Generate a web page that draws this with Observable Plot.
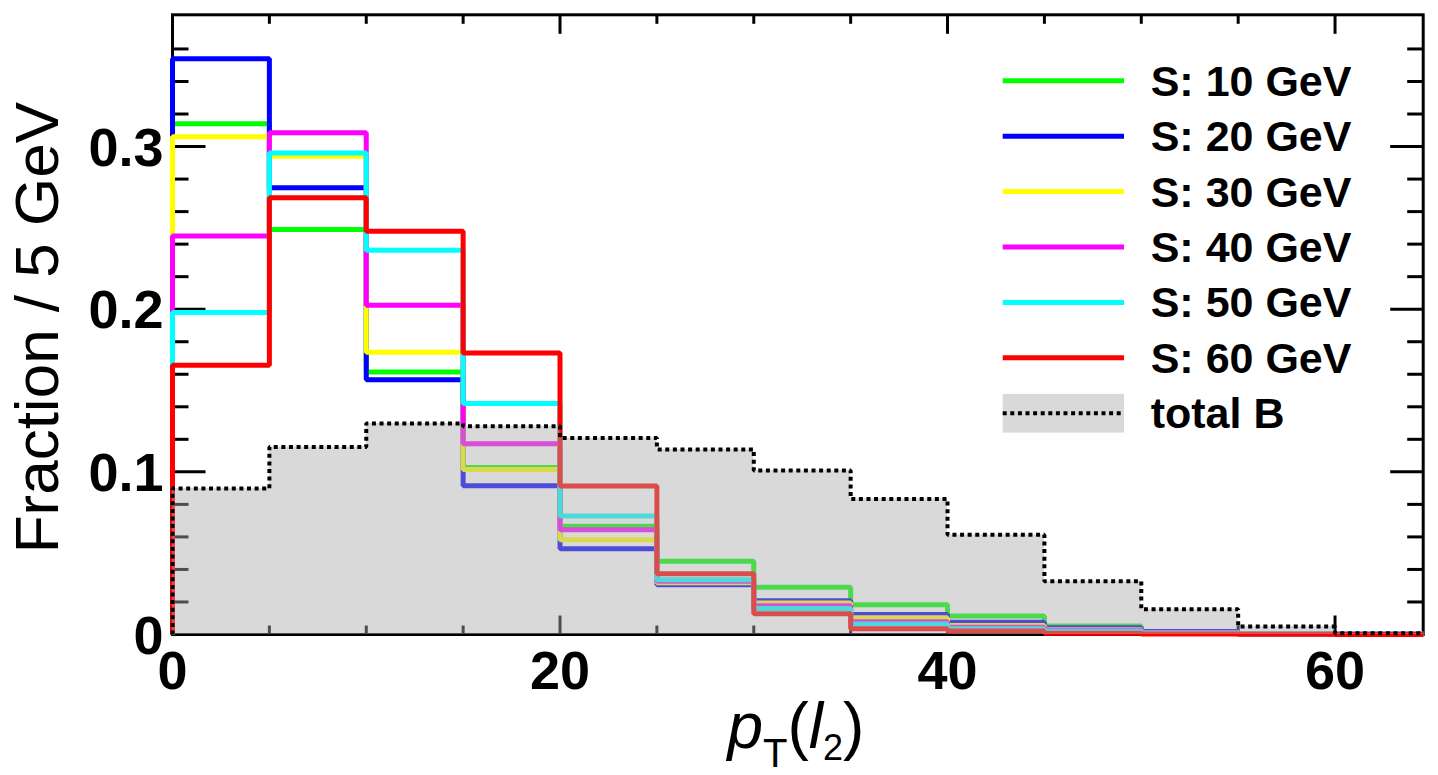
<!DOCTYPE html>
<html>
<head>
<meta charset="utf-8">
<script src="https://cdn.jsdelivr.net/npm/d3@7"></script>
<script src="https://cdn.jsdelivr.net/npm/@observablehq/plot@0.6"></script>
<style>
html,body{margin:0;padding:0;background:#fff;overflow:hidden}
</style>
</head>
<body>
<div id="chart"></div>
<script>
// ---- data ----
const binEdges = [0, 5, 10, 15, 20, 25, 30, 35, 40, 45, 50, 55, 60];
const seriesNames = ["S: 10 GeV", "S: 20 GeV", "S: 30 GeV", "S: 40 GeV", "S: 50 GeV", "S: 60 GeV"];
const seriesColors = ["#00ff00", "#0000ff", "#ffff00", "#ff00ff", "#00ffff", "#ff0000"];
const s10 = [0.314, 0.249, 0.1614, 0.1026, 0.0665, 0.0451, 0.0291, 0.0183, 0.0113, 0.0053, 0.0018, 0.0006, 0.0002];
const s20 = [0.354, 0.2747, 0.1567, 0.0915, 0.0527, 0.0306, 0.0207, 0.0123, 0.0076, 0.0041, 0.0018, 0.0006, 0.0002];
const s30 = [0.306, 0.294, 0.1735, 0.1014, 0.0583, 0.0318, 0.0193, 0.0103, 0.0055, 0.0030, 0.0012, 0.0004, 0.0001];
const s40 = [0.245, 0.3085, 0.2025, 0.1173, 0.0644, 0.0328, 0.0177, 0.0078, 0.0045, 0.0028, 0.0010, 0.0003, 0.0001];
const s50 = [0.198, 0.296, 0.2363, 0.142, 0.0728, 0.0337, 0.0160, 0.0064, 0.0035, 0.0020, 0.0008, 0.0003, 0.0001];
const s60 = [0.1655, 0.2685, 0.248, 0.173, 0.0913, 0.0373, 0.0127, 0.0035, 0.0022, 0.0008, 0.0003, 0.0001, 0.0];
const totalB = [0.0897, 0.1153, 0.1297, 0.128, 0.1208, 0.1138, 0.1009, 0.0833, 0.0614, 0.0328, 0.0156, 0.0049, 0.0008];
const bName = "total B";

const xMax = 64.55;
const yMax = 0.381;
const xTickValues = [0, 20, 40, 60];
const xTickLabels = ["0", "20", "40", "60"];
const xMajorTicks = [20, 40, 60];
const xMinorTicks = [5, 10, 15, 25, 30, 35, 45, 50, 55];
const yTickValues = [0, 0.1, 0.2, 0.3];
const yTickLabels = ["0", "0.1", "0.2", "0.3"];
const yMajorTicks = [0.1, 0.2, 0.3];
const yMinorTicks = [0.02, 0.04, 0.06, 0.08, 0.12, 0.14, 0.16, 0.18, 0.22, 0.24, 0.26, 0.28, 0.32, 0.34, 0.36];
const yTitle = "Fraction / 5 GeV";
const xTitle = "pT(l2)";

// ---- build ----
const allSeries = [s10, s20, s30, s40, s50, s60];
function outline(vals) {
  return [{x: binEdges[0], y: 0}, ...vals.map((v, i) => ({x: binEdges[i], y: v})), {x: xMax, y: vals[vals.length - 1]}];
}
function filled(vals) {
  return [...vals.map((v, i) => ({x: binEdges[i], y: v})), {x: xMax, y: vals[vals.length - 1]}];
}
const tickShape = {draw(ctx, l) { ctx.moveTo(0, 0); ctx.lineTo(0, -l); }};
const font = "'Liberation Sans', Arial, Helvetica, sans-serif";
const bFill = "#aaaaaa";
const bFillOpacity = 0.45;

function ticks(data, opts) {
  return Plot.vector(data, {anchor: "start", shape: tickShape, stroke: "black", strokeWidth: 3, strokeLinecap: "butt", ...opts});
}

const marks = [
  Plot.frame({stroke: "black", strokeWidth: 3}),
  ticks(xMajorTicks, {x: d => d, frameAnchor: "bottom", length: 19, rotate: 0}),
  ticks(xMinorTicks, {x: d => d, frameAnchor: "bottom", length: 9, rotate: 0}),
  ticks(xMajorTicks, {x: d => d, frameAnchor: "top", length: 19, rotate: 180}),
  ticks(xMinorTicks, {x: d => d, frameAnchor: "top", length: 9, rotate: 180}),
  ticks(yMajorTicks, {y: d => d, frameAnchor: "left", length: 33, rotate: 90}),
  ticks(yMinorTicks, {y: d => d, frameAnchor: "left", length: 16, rotate: 90}),
  ticks(yMajorTicks, {y: d => d, frameAnchor: "right", length: 33, rotate: -90}),
  ticks(yMinorTicks, {y: d => d, frameAnchor: "right", length: 16, rotate: -90}),
  ...allSeries.map((vals, i) => Plot.line(outline(vals), {
    x: "x", y: "y", curve: "step-after", stroke: seriesColors[i], strokeWidth: 5,
    strokeLinejoin: "miter", strokeLinecap: "butt"
  })),
  Plot.areaY(filled(totalB), {x: "x", y: "y", curve: "step-after", fill: bFill, fillOpacity: bFillOpacity}),
  Plot.line(outline(totalB), {
    x: "x", y: "y", curve: "step-after", stroke: "black", strokeWidth: 4,
    strokeDasharray: "4,3.6", strokeLinejoin: "miter", strokeLinecap: "butt"
  }),
  Plot.text(yTickValues, {y: d => d, text: (d, i) => yTickLabels[i], frameAnchor: "left", textAnchor: "end",
    dx: -9, dy: 2, lineAnchor: "middle", fontSize: 54, fontWeight: "bold", fill: "black"}),
  Plot.text(xTickValues, {x: d => d, text: (d, i) => xTickLabels[i], frameAnchor: "bottom", textAnchor: "middle",
    dy: 16, lineAnchor: "top", fontSize: 54, fontWeight: "bold", fill: "black"}),
  Plot.text([yTitle], {text: d => d, frameAnchor: "left", rotate: -90, dx: -115, dy: 3, lineAnchor: "bottom",
    textAnchor: "middle", fontSize: 62, fill: "black"}),
  Plot.text([xTitle], {text: d => d, frameAnchor: "bottom", dx: -2, dy: 113, lineAnchor: "bottom",
    textAnchor: "middle", fontSize: 64, fill: "black"})
];

const chart = Plot.plot({
  width: 1438,
  height: 775,
  marginLeft: 172,
  marginRight: 15.3,
  marginTop: 14.3,
  marginBottom: 141,
  x: {domain: [0, xMax], axis: null},
  y: {domain: [0, yMax], axis: null},
  style: {fontFamily: font, background: "white", overflow: "visible"},
  marks
});
document.getElementById("chart").appendChild(chart);

const svg = d3.select(chart);

// x title rich text
svg.selectAll("text").filter(function() { return this.textContent === xTitle; }).each(function() {
  this.innerHTML = '<tspan font-style="italic">p</tspan><tspan font-size="40" dy="19">T</tspan>' +
    '<tspan dy="-19">(</tspan><tspan font-style="italic">l</tspan><tspan font-size="36" dy="12">2</tspan>' +
    '<tspan dy="-12">)</tspan>';
});

// legend
const lg = svg.append("g").attr("font-family", font).attr("font-weight", "bold").attr("font-size", 43)
  .attr("text-anchor", "start");
const rowY0 = 80.7, rowStep = 55.43, lx0 = 1002.7, lx1 = 1124, tx = 1150.7;
seriesNames.forEach((name, i) => {
  const y = rowY0 + i * rowStep;
  lg.append("line").attr("x1", lx0).attr("x2", lx1).attr("y1", y).attr("y2", y)
    .attr("stroke", seriesColors[i]).attr("stroke-width", 5);
  lg.append("text").attr("x", tx).attr("y", y + 15).attr("fill", "black").attr("text-anchor", "start").text(name);
});
{
  const y = rowY0 + seriesNames.length * rowStep;
  lg.append("rect").attr("x", lx0).attr("y", y - 19.4).attr("width", lx1 - lx0).attr("height", 38.7)
    .attr("fill", bFill).attr("fill-opacity", bFillOpacity);
  lg.append("line").attr("x1", lx0).attr("x2", lx1).attr("y1", y).attr("y2", y)
    .attr("stroke", "black").attr("stroke-width", 4).attr("stroke-dasharray", "4,3.6");
  lg.append("text").attr("x", tx).attr("y", y + 15).attr("fill", "black").attr("text-anchor", "start").text(bName);
}
</script>
</body>
</html>
